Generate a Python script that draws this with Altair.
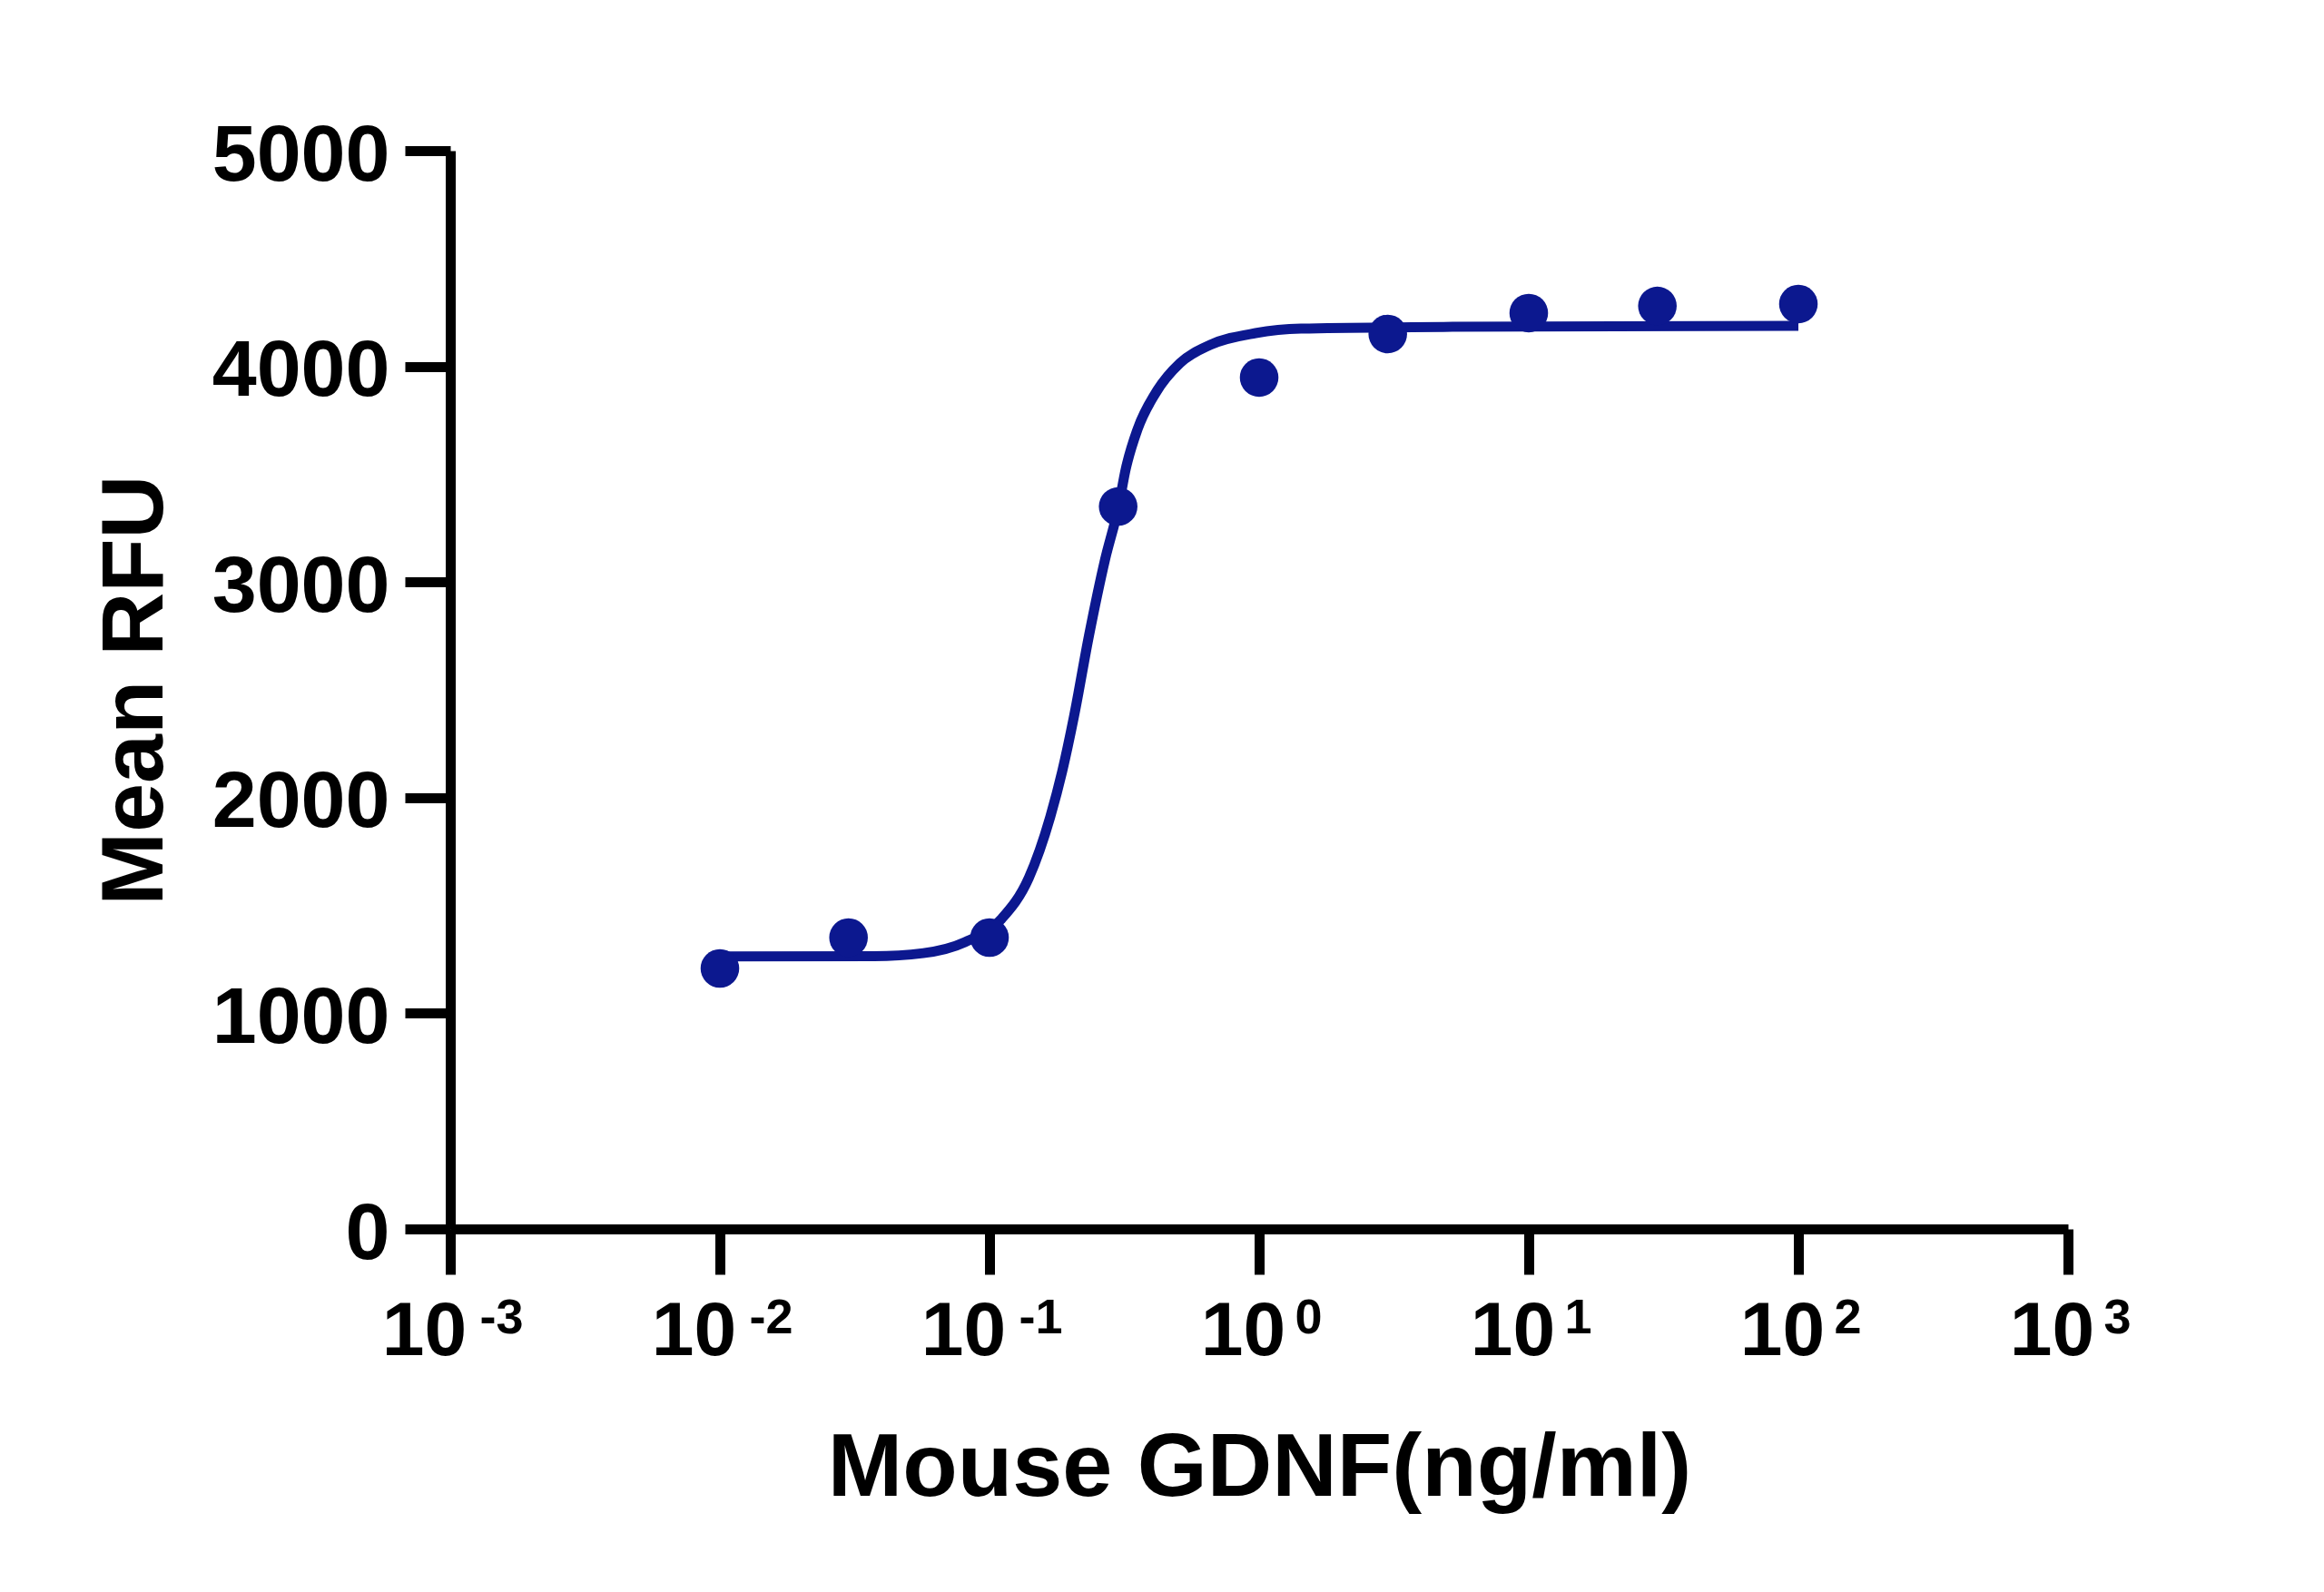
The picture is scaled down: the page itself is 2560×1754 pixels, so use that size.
import altair as alt
import pandas as pd

# Measured dose-response points
pt_conc = [0.01, 0.03, 0.1, 0.3, 1, 3, 10, 30, 100]
pt_rfu = [1208, 1351, 1351, 3350, 3948, 4150, 4247, 4280, 4289]

# Fitted curve
curve_conc = [0.01, 0.0373, 0.0568, 0.0811, 0.111, 0.140, 0.168, 0.186, 0.206,
              0.234, 0.268, 0.301, 0.320, 0.354, 0.413, 0.509, 0.658, 0.970,
              1.43, 5.21, 100]
curve_rfu = [1264, 1265, 1279, 1330, 1439, 1629, 1911, 2121, 2380,
             2753, 3102, 3350, 3523, 3708, 3876, 4015, 4099, 4154,
             4175, 4183, 4188]

x_ticks = [0.001, 0.01, 0.1, 1, 10, 100, 1000]
y_ticks = [0, 1000, 2000, 3000, 4000, 5000]

FONT = "Liberation Sans"
NAVY = "#0c188f"

pts = pd.DataFrame({"conc": pt_conc, "rfu": pt_rfu})
crv = pd.DataFrame({"conc": curve_conc, "rfu": curve_rfu})

x_scale = alt.Scale(type="log", domain=[0.001, 1000], nice=False)
y_scale = alt.Scale(domain=[0, 5000], nice=False)

y_axis = alt.Axis(
    values=y_ticks, format="d", grid=False,
    domainColor="black", domainWidth=11,
    tickColor="black", tickWidth=11, tickSize=50,
    labelFont=FONT, labelFontSize=88, labelFontWeight="bold", labelColor="black",
    labelPadding=17, labelOffset=6, labelLimit=600,
    title="Mean RFU", titleFont=FONT, titleFontSize=97, titleFontWeight="bold",
    titleColor="black", titleAngle=270, titleBaseline="alphabetic",
    titleAlign="center", titleX=-318, titleY=594,
)

x_axis_main = alt.Axis(
    orient="bottom", values=x_ticks, labelExpr="'10'", grid=False,
    domainColor="black", domainWidth=11,
    tickColor="black", tickWidth=11, tickSize=50,
    labelFont=FONT, labelFontSize=84, labelFontWeight="bold", labelColor="black",
    labelPadding=22, labelAlign="center", labelFlush=False, labelOverlap=False,
    labelLimit=600,
    labelOffset={"condition": {"test": "datum.value < 1", "value": -29}, "value": -18},
    title="Mouse GDNF(ng/ml)", titleFont=FONT, titleFontSize=99, titleFontWeight="bold",
    titleColor="black", titleBaseline="alphabetic", titleAlign="center",
    titleX=891, titleY=293,
)

x_axis_exp = alt.Axis(
    orient="bottom", values=x_ticks,
    labelExpr="'' + round(log(datum.value) / LN10)",
    grid=False, domain=False, ticks=False,
    labelFont=FONT, labelFontSize=54, labelFontWeight="bold", labelColor="black",
    labelPadding=71, labelAlign="center", labelFlush=False, labelOverlap=False,
    labelLimit=600,
    labelOffset={"condition": {"test": "datum.value < 1", "value": 56}, "value": 54},
    title="",
)

line = alt.Chart(crv).mark_line(color=NAVY, strokeWidth=11, interpolate="monotone", clip=False).encode(
    x=alt.X("conc:Q", scale=x_scale, axis=x_axis_main),
    y=alt.Y("rfu:Q", scale=y_scale, axis=y_axis),
)

points = alt.Chart(pts).mark_circle(color=NAVY, size=1810, opacity=1).encode(
    x=alt.X("conc:Q", scale=x_scale, axis=x_axis_exp),
    y=alt.Y("rfu:Q", scale=y_scale, axis=y_axis),
)

chart = alt.layer(line, points).resolve_axis(x="independent").properties(
    width=1782, height=1188,
    autosize=alt.AutoSizeParams(type="none"),
    padding={"left": 488, "top": 158, "right": 250, "bottom": 392},
    background="white",
).configure_view(strokeWidth=0)

chart.save("out.html", embed_options={"renderer": "svg", "actions": False})
